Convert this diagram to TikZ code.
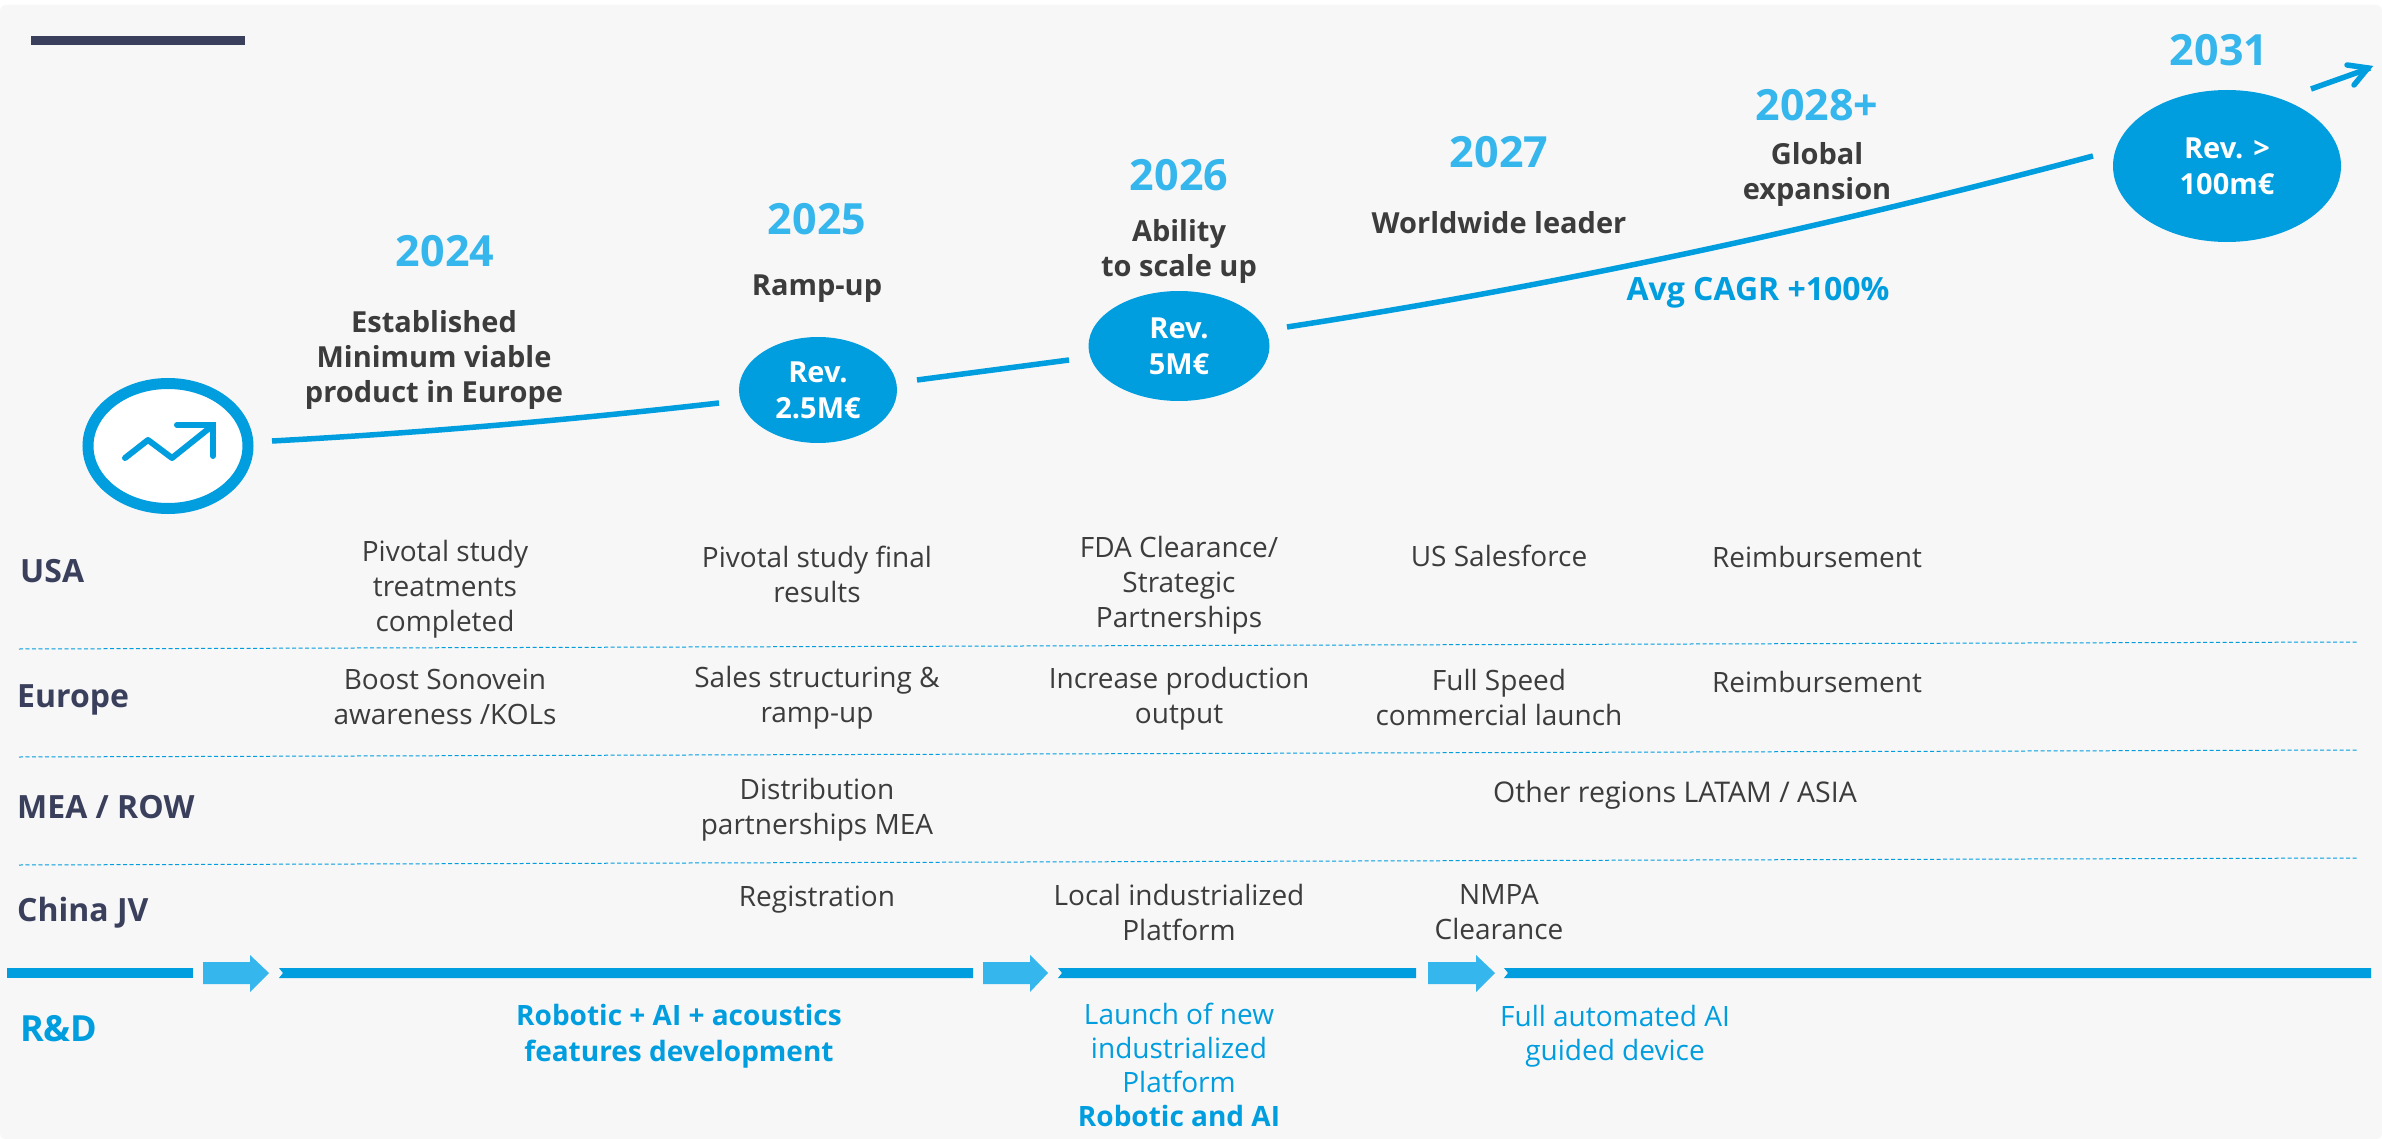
\documentclass[tikz,border=0pt]{standalone}
\usepackage{fontspec}
\setmainfont{Open Sans}
\usetikzlibrary{shapes.geometric,arrows.meta}
\definecolor{mainblue}{HTML}{009DDF}
\definecolor{lightblue}{HTML}{35B6EC}
\definecolor{darktext}{HTML}{3C3C3C}
\definecolor{navy}{HTML}{3A3F5C}
\definecolor{panel}{HTML}{F7F7F7}
\tikzset{
  x=1pt,y=-1pt,
  body/.style={font=\fontsize{28}{35}\selectfont,text=darktext,align=center,inner sep=0pt},
  head/.style={font=\fontsize{29}{35}\selectfont\bfseries,text=darktext,align=center,inner sep=0pt},
  year/.style={font=\fontsize{43}{50}\selectfont\bfseries,text=lightblue,align=center,inner sep=0pt},
  rowlabel/.style={font=\fontsize{32}{36}\selectfont\bfseries,text=navy,anchor=west,inner sep=0pt},
  rd/.style={font=\fontsize{28}{34}\selectfont,text=mainblue,align=center,inner sep=0pt},
  rdb/.style={font=\fontsize{28}{36}\selectfont\bfseries,text=mainblue,align=center,inner sep=0pt},
  rev/.style={ellipse,fill=mainblue,text=white,font=\fontsize{29}{36}\selectfont\bfseries,align=center,inner sep=0pt,draw=none},
  curve/.style={draw=mainblue,line width=5.5pt},
  sep/.style={draw=mainblue,line width=1pt,dash pattern=on 4pt off 2.5pt},
  bar/.style={fill=mainblue},
  step arrow/.style={fill=lightblue},
}
\begin{document}
\begin{tikzpicture}
\useasboundingbox (0,0) rectangle (2382,1139);
\fill[white] (0,0) rectangle (2382,1139);
\fill[panel,rounded corners=6pt] (0,5) rectangle (2382,1139);
\fill[navy] (31,36) rectangle (245,45);

% milestones
\node[draw=mainblue,fill=white,line width=11pt,ellipse,minimum width=160pt,minimum height=125pt,inner sep=0pt] (icon) at (168,446) {};
\draw[mainblue,line width=6pt,line cap=round,line join=round] (125,458) -- (148,440) -- (172,458) -- (212,426);
\draw[mainblue,line width=6pt,line cap=round,line join=miter] (177,425) -- (213,425) -- (213,456);
\node[rev,minimum width=158pt,minimum height=106pt] (r25) at (818,390) {Rev.\\2.5M€};
\node[rev,minimum width=181pt,minimum height=110pt] (r26) at (1179,346) {Rev.\\5M€};
\node[rev,minimum width=228pt,minimum height=152pt] (r31) at (2227,166) {Rev. >\\100m€};

\coordinate (c1a) at (272,441);
\coordinate (c1b) at (719,403);
\coordinate (c2a) at (917,380);
\coordinate (c2b) at (1069,360);
\coordinate (c3a) at (1287,327);
\coordinate (c3b) at (2093,156);
\draw[curve] (c1a) .. controls (420,433) and (570,420) .. (c1b);
\draw[curve] (c2a) -- (c2b);
\draw[curve] (c3a) .. controls (1560,285) and (1830,226) .. (c3b);
\coordinate (outa) at (2311,89);
\coordinate (outb) at (2370,68);
\draw[mainblue,line width=5.5pt] (outa) -- (outb);
\draw[mainblue,line width=5.5pt,line cap=round] (2347,65) -- (2368,68) -- (2354,85);

\node[year] (y24) at (445,251) {2024};
\node[head] (t24) at (434,360) {Established\\Minimum viable\\product in Europe};
\node[year] (y25) at (817,219) {2025};
\node[head] (t25) at (817,289) {Ramp-up};
\node[year] (y26) at (1179,175) {2026};
\node[head] (t26) at (1179,251) {Ability\\to scale up};
\node[year] (y27) at (1499,152) {2027};
\node[head] (t27) at (1499,223) {Worldwide leader};
\node[year] (y28) at (1817,105) {2028+};
\node[head] (t28) at (1817,174) {Global\\expansion};
\node[year] (y31) at (2219,50) {2031};
\node[rdb,font=\fontsize{32}{36}\selectfont\bfseries] (cagr) at (1758,293) {Avg CAGR +100\%};

% rows
\node[rowlabel] (lusa) at (20,571) {USA};
\node[rowlabel] (leu) at (17,700) {Europe};
\node[rowlabel] (lmea) at (17,807) {MEA / ROW};
\node[rowlabel] (lcn) at (17,913) {China JV};
\node[rowlabel,text=mainblue,font=\fontsize{36}{36}\selectfont\bfseries] (lrd) at (20,1029) {R\&D};

\coordinate (s1a) at (19,649); \coordinate (s1b) at (2358,642);
\coordinate (s2a) at (19,757); \coordinate (s2b) at (2358,750);
\coordinate (s3a) at (19,865); \coordinate (s3b) at (2358,858);
\draw[sep] (s1a) -- (s1b);
\draw[sep] (s2a) -- (s2b);
\draw[sep] (s3a) -- (s3b);

\node[body] (u1) at (445,589) {Pivotal study\\treatments\\completed};
\node[body] (u2) at (817,574) {Pivotal study final\\results};
\node[body] (u3) at (1179,585) {FDA Clearance/\\Strategic\\Partnerships};
\node[body] (u4) at (1499,556) {US Salesforce};
\node[body] (u5) at (1817,557) {Reimbursement};
\node[body] (e1) at (445,697) {Boost Sonovein\\awareness /KOLs};
\node[body] (e2) at (817,698) {Sales structuring \&\\ramp-up};
\node[body] (e3) at (1179,699) {Increase production\\output};
\node[body] (e4) at (1499,697) {Full Speed\\commercial launch};
\node[body] (e5) at (1817,682) {Reimbursement};
\node[body] (m1) at (817,810) {Distribution\\partnerships MEA};
\node[body,font=\fontsize{28.5}{35}\selectfont] (m2) at (1675,795) {Other regions LATAM / ASIA};
\node[body] (c1) at (817,900) {Registration};
\node[body] (c2) at (1179,912) {Local industrialized\\Platform};
\node[body] (c3) at (1499,912) {NMPA\\Clearance};

% R&D band
\fill[bar] (7,968) rectangle (193,978);
\fill[step arrow] (203,962) -- (250,962) -- (250,955) -- (269,973) -- (250,992) -- (250,984) -- (203,984) -- cycle;
\fill[bar] (279,968) -- (973,968) -- (973,978) -- (279,978) -- (283,973) -- cycle;
\fill[step arrow] (983,962) -- (1030,962) -- (1030,955) -- (1048,973) -- (1030,992) -- (1030,984) -- (983,984) -- cycle;
\fill[bar] (1058,968) -- (1416,968) -- (1416,978) -- (1058,978) -- (1062,973) -- cycle;
\fill[step arrow] (1428,962) -- (1476,962) -- (1476,955) -- (1495,973) -- (1476,992) -- (1476,984) -- (1428,984) -- cycle;
\fill[bar] (1504,968) -- (2371,968) -- (2371,978) -- (1504,978) -- (1508,973) -- cycle;

\node[rdb] (d1) at (679,1036) {Robotic + AI + acoustics\\features development};
\node[rd] (d2) at (1179,1065) {Launch of new\\industrialized\\Platform\\\textbf{Robotic and AI}};
\node[rd] (d3) at (1615,1036) {Full automated AI\\guided device};
\end{tikzpicture}
\end{document}
